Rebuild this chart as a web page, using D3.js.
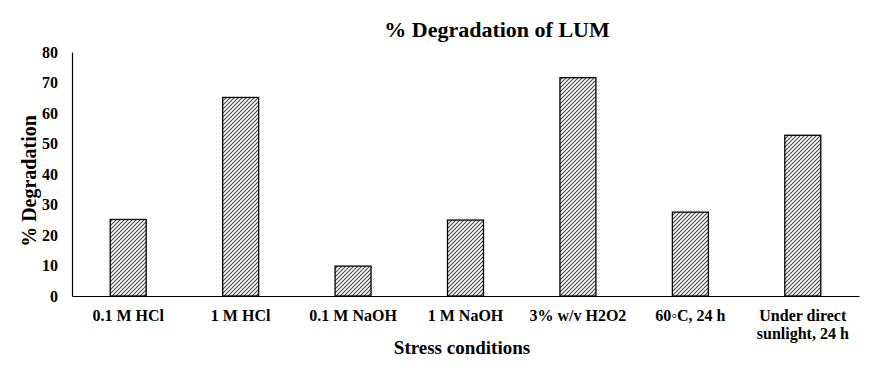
<!DOCTYPE html>
<html>
<head>
<meta charset="utf-8">
<script src="https://cdn.jsdelivr.net/npm/d3@7"></script>
<style>
  body { margin: 0; background: #fff; }
</style>
</head>
<body>
<svg id="chart"></svg>
<script>
// dữ liệu
const categories = ["0.1 M HCl", "1 M HCl", "0.1 M NaOH", "1 M NaOH", "3% w/v H2O2", "60◦C, 24 h", "Under direct\nsunlight, 24 h"];
const degradation = [25.1, 65.1, 9.8, 24.9, 71.6, 27.5, 52.7];
const yTicks = [0, 10, 20, 30, 40, 50, 60, 70, 80];

const FONT = "'Liberation Serif', 'Times New Roman', serif";

const width = 873, height = 376;
const margin = { top: 52, right: 14, bottom: 80, left: 72 };

const svg = d3.select("#chart")
    .attr("width", width)
    .attr("height", height)
    .style("font-family", FONT);

// mẫu gạch chéo
const defs = svg.append("defs");
const pat = defs.append("pattern")
    .attr("id", "hatch")
    .attr("patternUnits", "userSpaceOnUse")
    .attr("width", 4)
    .attr("height", 4);
pat.append("rect").attr("width", 4).attr("height", 4).attr("fill", "#fff");
pat.append("path")
    .attr("d", "M-1,1 l2,-2 M0,4 l4,-4 M3,5 l2,-2")
    .attr("stroke", "#444")
    .attr("stroke-width", 1.1);

const g = svg.append("g")
    .attr("transform", `translate(${margin.left}, ${margin.top})`);

const innerW = width - margin.left - margin.right;
const innerH = height - margin.top - margin.bottom;

const x = d3.scaleBand()
    .domain(categories)
    .range([0, innerW])
    .paddingInner(0.68)
    .paddingOuter(0.34);

const y = d3.scaleLinear()
    .domain([0, 80])
    .range([innerH, 0]);

// trục Y
const yAxis = g.append("g")
    .call(d3.axisLeft(y).tickValues(yTicks).tickSize(0).tickPadding(14));
yAxis.attr("font-family", null).attr("font-size", null);
yAxis.select(".domain").attr("stroke", "#000").attr("stroke-width", 1.2);
yAxis.selectAll("text")
    .style("font-size", "16px")
    .style("font-family", FONT)
    .style("font-weight", "bold")
    .attr("fill", "#000");

// trục X
const xAxis = g.append("g")
    .attr("transform", `translate(0, ${innerH})`)
    .call(d3.axisBottom(x).tickSize(0).tickFormat(""));
xAxis.select(".domain").attr("stroke", "#000").attr("stroke-width", 1.2);

// nhãn trục X (có xuống dòng)
g.selectAll(".xlabel")
    .data(categories)
    .enter()
    .append("text")
    .attr("class", "xlabel")
    .attr("text-anchor", "middle")
    .attr("x", d => x(d) + x.bandwidth() / 2)
    .attr("y", innerH + 25)
    .style("font-size", "16px")
    .style("font-family", FONT)
    .style("font-weight", "bold")
    .each(function(d) {
        const lines = d.split("\n");
        d3.select(this).selectAll("tspan")
            .data(lines)
            .enter()
            .append("tspan")
            .attr("x", x(d) + x.bandwidth() / 2)
            .attr("dy", (l, i) => i === 0 ? 0 : 18)
            .text(l => l);
    });

// các cột
g.selectAll(".bar")
    .data(degradation)
    .enter()
    .append("rect")
    .attr("class", "bar")
    .attr("x", (d, i) => x(categories[i]))
    .attr("y", d => y(d))
    .attr("width", x.bandwidth())
    .attr("height", d => innerH - y(d))
    .attr("fill", "url(#hatch)")
    .attr("stroke", "#000")
    .attr("stroke-width", 1.3);

// tiêu đề
function addText(tx, ty, size, txt, rot) {
    return svg.append("text")
        .attr("transform", `translate(${tx}, ${ty})` + (rot ? " rotate(-90)" : ""))
        .attr("text-anchor", "middle")
        .style("font-family", FONT)
        .style("font-weight", "bold")
        .style("font-size", size)
        .text(txt);
}
addText(497, 37, "22px", "% Degradation of LUM");
addText(462, 354, "19px", "Stress conditions");
addText(36, 181, "20px", "% Degradation", true);
</script>
</body>
</html>
